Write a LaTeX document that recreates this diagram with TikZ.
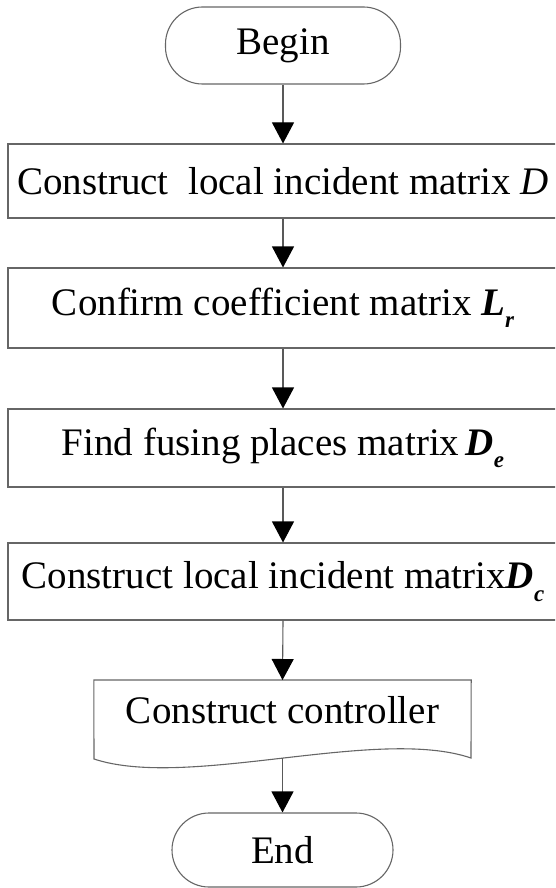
\documentclass[tikz,border=0pt]{standalone}
\usepackage{fontspec}
\setmainfont{Liberation Serif}
\usetikzlibrary{arrows.meta}
\newcommand\mysub[1]{\raisebox{-0.32em}{\fontsize{23}{23}\selectfont\bfseries\itshape #1}}
\newcommand\bim[1]{{\bfseries\itshape #1}}
\begin{document}
\begin{tikzpicture}[x=1pt,y=1pt,
  every node/.style={font=\fontsize{39}{44}\selectfont, inner sep=0pt},
  stepbox/.style={draw=black!60, line width=1.1pt, minimum width=550pt},
  termbox/.style={draw=black!60, line width=1.1pt, rounded corners=37pt},
  arr/.style={draw=black!65, line width=1.1pt, -{Triangle[length=21pt,width=22pt,fill=black,color=black]}},
  outline/.style={draw=black!60, line width=1.1pt}]
\path[use as bounding box, clip] (0,0) rectangle (555,-888);

\node[termbox, minimum width=235pt, minimum height=77pt] (begin) at (283,-45.5) {Begin};
\node[stepbox, minimum height=74pt] (b1) at (283,-181) {Construct\ \ local incident matrix \textit{D}};
\node[stepbox, minimum height=80pt] (b2) at (283,-308) {Confirm coefficient matrix \bim{L}\mysub{r}};
\node[stepbox, minimum height=78pt] (b3) at (283,-448) {Find fusing places matrix\,\bim{D}\mysub{e}};
\node[stepbox, minimum height=77pt] (b4) at (283,-581.5) {Construct local incident matrix\bim{D}\mysub{c}};
\node[minimum width=377pt, minimum height=60pt, anchor=north] (ctrl) at (282.5,-680) {Construct controller};
\coordinate (ctrlb) at (282.5,-758);
\node[termbox, minimum width=221pt, minimum height=74pt] (end) at (282.5,-850) {End};

\path[outline] (ctrl.north west) -- (ctrl.north east) -- (471,-758)
  .. controls (377,-726) and (188,-790) .. (94,-759) -- cycle;

\draw[arr] (begin.south) -- (b1.north);
\draw[arr] (b1.south) -- (b2.north);
\draw[arr] (b2.south) -- (b3.north);
\draw[arr] (b3.south) -- (b4.north);
\draw[arr] (b4.south) -- (ctrl.north);
\draw[arr] (ctrlb) -- (end.north);
\end{tikzpicture}
\end{document}
